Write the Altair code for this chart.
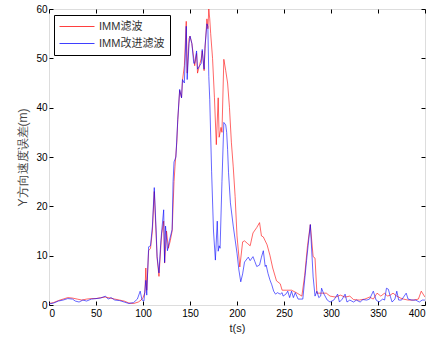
import altair as alt
import pandas as pd

# IMM滤波 (red)
t_red = [0, 5, 10, 15, 20, 25, 30, 35, 40, 45, 50, 55, 60, 65, 70, 75, 80, 85, 90, 95,
         98, 100, 102, 103, 104, 106, 108, 110, 112, 114, 115, 117, 119, 120, 122, 123, 125, 127, 129, 131,
         133, 134, 136, 137, 139, 141, 142, 144, 146, 147, 149, 150, 152, 154, 155, 157, 158, 160, 162, 163,
         165, 166, 168, 169, 170, 171, 172, 174, 176, 178, 180, 181, 183, 184, 186, 188, 190, 192, 194, 196,
         198, 200, 203, 206, 208, 211, 214, 217, 221, 224, 226, 228, 232, 235, 238, 242, 246, 248, 253, 258,
         264, 269, 272, 275, 278, 281, 283, 285, 290, 295, 299, 305, 310, 315, 320, 324, 330, 336, 341, 345,
         349, 353, 357, 360, 363, 366, 370, 374, 377, 382, 388, 393, 396, 400]
v_red = [0.3, 0.5, 0.9, 1.2, 1.5, 1.4, 1.2, 1.0, 1.2, 1.3, 1.3, 1.5, 1.6, 1.4, 1.2, 1.0, 0.8, 0.4, 0.3, 0.6,
         1.0, 1.5, 2.5, 7.5, 3.0, 11.0, 11.5, 15.0, 23.0, 14.0, 9.5, 5.8, 12.0, 14.5, 17.0, 8.5, 15.0, 11.5, 13.0, 15.0,
         25.0, 28.0, 33.0, 37.5, 43.5, 42.0, 45.5, 48.5, 57.5, 47.0, 54.0, 54.5, 53.0, 50.0, 48.5, 51.0, 47.0, 48.5, 50.0, 51.5,
         47.5, 52.0, 58.0, 56.0, 60.0, 58.0, 55.0, 50.0, 42.0, 32.5, 42.0, 34.0, 36.0, 35.0, 49.8, 47.5, 45.0, 40.0, 33.0, 28.0,
         22.0, 14.0, 7.7, 12.8, 13.0, 12.5, 12.0, 14.6, 15.7, 16.7, 14.0, 13.8, 12.2, 10.1, 7.5, 4.9, 4.3, 3.0, 3.0, 3.0,
         2.4, 1.8, 6.0, 12.0, 16.3, 9.8, 9.5, 2.4, 2.4, 2.4, 1.8, 1.6, 2.0, 1.6, 1.8, 1.1, 1.0, 1.2, 1.6, 1.2,
         2.4, 1.8, 2.4, 1.8, 2.0, 2.4, 1.8, 1.4, 1.2, 1.0, 1.0, 1.2, 2.8, 1.6]

# IMM改进滤波 (blue)
t_blue = [0, 5, 10, 15, 20, 25, 28, 32, 36, 40, 45, 50, 55, 60, 63, 66, 70, 75, 80, 85,
          90, 94, 97, 99, 101, 103, 104, 106, 108, 110, 112, 114, 115, 117, 119, 120, 122, 123, 124, 126,
          128, 131, 132, 133, 135, 137, 139, 141, 142, 144, 146, 147, 149, 150, 152, 154, 155, 157, 158, 160,
          162, 163, 165, 166, 168, 169, 170, 171, 173, 175, 177, 179, 180, 181, 182, 184, 186, 188, 189, 190,
          191, 193, 196, 200, 202, 204, 206, 208, 212, 214, 217, 219, 221, 224, 226, 228, 230, 231, 233, 235,
          237, 239, 241, 243, 246, 248, 249, 252, 254, 256, 258, 260, 262, 265, 268, 270, 274, 278, 281, 283,
          285, 287, 289, 290, 292, 296, 299, 303, 305, 307, 309, 312, 315, 317, 320, 324, 327, 331, 334, 338,
          341, 345, 348, 351, 355, 357, 359, 361, 363, 365, 368, 370, 372, 375, 380, 382, 386, 390, 394, 397, 400]
v_blue = [0.2, 0.4, 0.8, 1.0, 1.3, 1.2, 0.8, 0.6, 1.0, 0.8, 1.2, 1.3, 1.4, 1.8, 1.2, 1.5, 1.0, 0.9, 0.6, 0.3,
          0.5, 1.2, 2.8, 1.0, 0.8, 5.0, 2.0, 11.8, 12.0, 16.0, 23.8, 15.0, 9.8, 6.5, 13.0, 15.2, 19.3, 8.6, 16.0, 11.0,
          13.0, 15.3, 25.0, 29.0, 30.0, 37.6, 43.7, 42.0, 45.7, 45.0, 56.5, 45.7, 53.0, 54.5, 53.0, 49.0, 49.0, 51.5, 47.8, 48.4,
          49.0, 51.8, 47.8, 52.5, 57.0, 56.5, 46.3, 41.7, 27.0, 15.0, 9.1, 17.0, 10.9, 12.0, 11.5, 25.0, 37.0, 36.5, 35.0, 31.5,
          26.8, 20.7, 16.0, 10.5, 7.1, 4.7, 6.3, 8.7, 9.7, 9.0, 9.8, 8.8, 7.8, 8.1, 9.7, 11.0, 7.8, 8.1, 6.4, 5.1,
          4.1, 2.8, 2.2, 2.5, 2.2, 2.5, 1.8, 2.2, 2.8, 1.5, 2.8, 1.5, 2.5, 1.2, 1.2, 1.2, 9.0, 16.3, 5.7, 1.8,
          2.8, 1.5, 1.8, 3.4, 2.4, 1.0, 0.6, 1.0, 1.6, 2.2, 0.6, 1.2, 2.2, 0.6, 1.0, 0.6, 1.0, 0.6, 1.1, 1.0,
          1.2, 2.8, 1.0, 0.6, 1.2, 1.0, 3.4, 3.2, 1.8, 0.6, 1.2, 2.8, 1.0, 1.0, 2.4, 1.2, 1.0, 1.0, 0.6, 1.0, 1.0]

series_names = ["IMM滤波", "IMM改进滤波"]
series_colors = ["#ff0000", "#0000ff"]
x_ticks = [0, 50, 100, 150, 200, 250, 300, 350, 400]
y_ticks = [0, 10, 20, 30, 40, 50, 60]

df = pd.concat([
    pd.DataFrame({"t": t_red, "v": v_red, "s": series_names[0], "o": range(len(t_red))}),
    pd.DataFrame({"t": t_blue, "v": v_blue, "s": series_names[1], "o": range(len(t_blue))}),
])

FONT = "Liberation Sans, Arial, Noto Sans CJK SC"

xs = alt.Scale(domain=[0, 400], nice=False, zero=False)
ys = alt.Scale(domain=[0, 60], nice=False)

main = alt.Chart(df).mark_line(strokeWidth=0.8, opacity=0.75, clip=True).encode(
    x=alt.X("t:Q", scale=xs, axis=alt.Axis(
        orient="bottom", values=x_ticks, title="t(s)", domain=False, grid=False,
        offset=-4, tickSize=4, tickColor="black", labelPadding=3, titlePadding=4,
        titleFontWeight="normal", titleColor="#222")),
    y=alt.Y("v:Q", scale=ys, axis=alt.Axis(
        orient="left", values=y_ticks, title="Y方向速度误差(m)", domain=False, grid=False,
        offset=-4, tickSize=4, tickColor="black", labelPadding=2, titlePadding=6,
        titleFontWeight="normal", titleColor="#444", titleFontSize=12)),
    color=alt.Color("s:N", scale=alt.Scale(domain=series_names, range=series_colors),
                    legend=alt.Legend(title=None, orient="none", legendX=5, legendY=6,
                                      strokeColor="black", fillColor="white", padding=5,
                                      symbolType="stroke", symbolSize=1225, symbolStrokeWidth=1,
                                      clipHeight=13, labelFontSize=11, labelColor="#333",
                                      labelFont=FONT, rowPadding=4, labelOffset=4)),
    order="o:Q",
    detail="s:N",
)

frame = alt.Chart(df).mark_line(opacity=0).encode(
    x=alt.X("t:Q", scale=xs, axis=alt.Axis(
        orient="top", values=x_ticks, title=None, labels=False, domain=False, grid=False,
        offset=-4, tickSize=4, tickColor="black")),
    y=alt.Y("v:Q", scale=ys, axis=alt.Axis(
        orient="right", values=y_ticks, title=None, labels=False, domain=False, grid=False,
        offset=-4, tickSize=4, tickColor="black")),
    detail="s:N",
)

chart = alt.layer(main, frame).resolve_axis(x="independent", y="independent").properties(
    width=376, height=296,
    autosize=alt.AutoSizeParams(type="none"),
    padding={"left": 49, "top": 9, "right": 5, "bottom": 36},
).configure_view(stroke="black", strokeWidth=1.2).configure_axis(
    labelFont=FONT, titleFont=FONT, labelFontSize=11, titleFontSize=11,
    labelColor="black", titleFontWeight="normal"
).configure(background="white")

chart.save("out.html", embed_options={"renderer": "svg", "actions": False})
